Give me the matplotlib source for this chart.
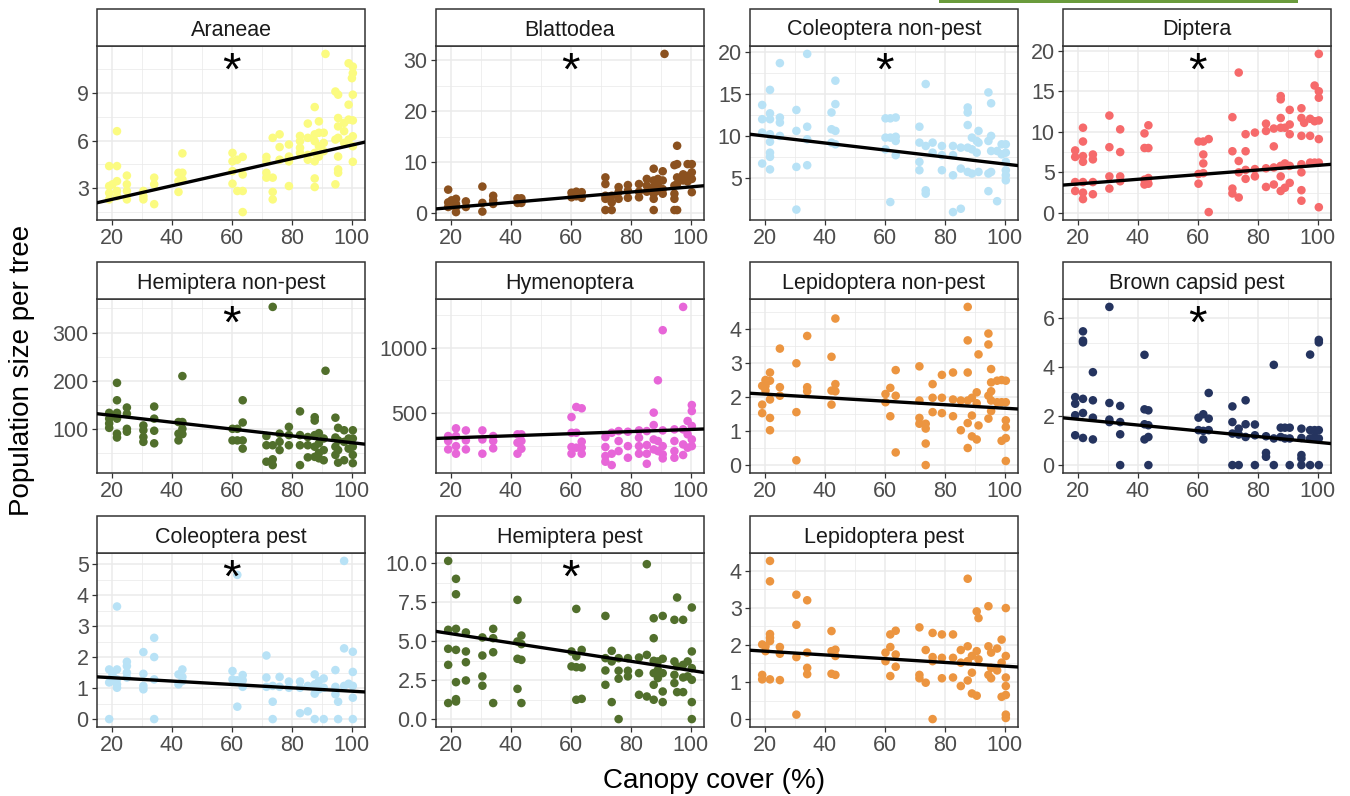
import matplotlib
matplotlib.use("Agg")
import matplotlib.pyplot as plt
from matplotlib.patches import Rectangle
import matplotlib.transforms as mtransforms
import numpy as np

plt.rcParams['font.family'] = ['Liberation Sans', 'DejaVu Sans']

# ---------------- data (canopy cover %, population size per tree) ----------------
araneae = [(19.1, [4.4, 3.14, 2.7, 2.3]), (20.2, [3.25]), (21.7, [4.4, 6.6, 3.45, 2.83, 2.5]),
           (25.0, [3.8, 3.25, 2.83, 2.3]), (30.5, [2.83, 2.3, 2.5]), (34.1, [3.67, 3.25, 2.0]),
           (42.2, [3.98, 3.45, 2.77]), (43.5, [5.2, 3.98, 3.56]), (60.2, [5.23, 4.7, 4.08, 3.29]),
           (61.8, [4.8, 2.83]), (63.6, [4.98, 3.87, 2.83, 1.5]), (71.5, [4.98, 4.7, 3.98, 3.67]),
           (73.6, [6.18, 3.67, 2.77, 2.3]), (75.9, [6.4, 5.6, 4.8]), (79.0, [5.76, 5.0, 4.7, 3.14]),
           (82.7, [6.3, 5.97, 5.55, 5.23]), (85.3, [7.08, 6.18, 4.8, 5.1]),
           (87.6, [8.12, 6.4, 5.97, 5.23, 4.7, 3.62, 3.08]), (89.0, [7.22, 6.5, 5.65, 5.0]),
           (90.6, [6.5, 5.86, 5.34]), (91.2, [11.47]), (94.5, [9.1, 6.07, 3.25]),
           (95.4, [8.9, 7.43, 6.9, 6.18, 5.0, 4.19, 3.98]), (97.4, [7.12, 6.6, 5.86]),
           (98.9, [10.88, 8.27, 7.33, 6.07]), (100.0, [9.94]),
           (100.3, [10.67, 10.26, 8.9, 7.28, 6.28, 5.65, 4.67])]

blattodea = [(19.1, [4.6, 2.1, 1.2]), (20.2, [2.5, 1.5]), (21.7, [2.8, 1.8, 0.2, 1.2]), (25.0, [2.3, 1.2]),
             (30.5, [5.2, 2.0, 0.3]), (34.1, [3.4, 2.5, 1.8]), (42.2, [2.9, 2.0]), (43.5, [2.9, 2.0]),
             (60.2, [4.0, 3.1]), (61.8, [4.2, 3.3]), (63.6, [4.1, 3.0]), (71.5, [7.0, 5.7, 3.4, 2.8, 0.6]),
             (73.6, [3.4, 2.1, 0.6]), (75.9, [5.1, 4.1, 2.8]), (79.0, [5.5, 4.4, 3.0]), (82.7, [5.7, 4.2, 3.1]),
             (85.3, [6.7, 5.4, 4.2]), (87.6, [8.7, 6.4, 5.1, 3.8, 2.8, 0.6]), (89.0, [6.7, 5.4, 4.4]),
             (90.6, [6.4, 4.7, 3.8, 8.2]), (91.2, [31.2]), (94.5, [9.4, 5.4, 3.8, 2.8, 0.6]),
             (95.4, [13.2, 9.6, 7.0, 5.7, 0.6]), (97.4, [7.6, 6.4]), (98.9, [9.6, 7.3, 6.2]),
             (100.3, [9.6, 8.0, 6.7, 4.1])]

coleoptera_nonpest = [(19.1, [13.7, 12.0, 10.4, 6.7]), (21.7, [15.5, 12.7, 12.0, 10.2, 9.3, 8.0, 7.5, 6.0]),
                      (25.0, [18.7, 12.2, 11.6, 10.0]), (30.5, [13.1, 10.6, 6.3, 1.2]),
                      (34.1, [19.8, 11.1, 9.6, 6.5]), (42.2, [12.8, 10.8, 9.2]), (43.5, [16.6, 13.8, 10.6, 9.0]),
                      (60.2, [12.1, 9.8, 8.4]), (61.8, [12.1, 9.8, 2.1]), (63.6, [12.2, 9.9, 9.4, 7.7]),
                      (71.5, [11.1, 9.2, 6.9, 5.9]), (73.6, [16.2, 8.8, 3.5, 3.1]), (75.9, [9.2, 8.0]),
                      (79.0, [8.8, 7.7, 5.9]), (82.7, [8.8, 7.7, 5.3, 0.9]), (85.3, [8.6, 6.1, 1.3]),
                      (87.6, [13.4, 12.8, 11.3, 8.6, 5.7]), (89.0, [9.8, 8.4, 5.5]), (90.6, [9.4, 8.0]),
                      (91.2, [10.6, 9.2, 5.7]), (94.5, [15.2, 9.4, 5.5, 3.4]), (95.4, [13.9, 10.0, 8.2, 5.7]),
                      (97.4, [8.2, 2.2]), (98.9, [9.0, 7.8]), (100.3, [9.0, 8.0, 6.9, 5.9, 5.3, 4.7])]

diptera = [(19.1, [7.7, 6.9, 3.8, 2.7]), (21.7, [10.5, 8.8, 7.0, 6.3, 3.8, 2.5, 1.7]), (25.0, [7.2, 6.6, 3.8, 2.3]),
           (30.5, [12.0, 8.1, 4.5, 3.0]), (34.1, [10.3, 7.5, 4.5, 3.9]), (42.2, [9.8, 8.0, 4.1, 3.5]),
           (43.5, [10.8, 8.0, 4.3, 3.6]), (60.2, [8.8, 4.8, 3.6]), (61.8, [8.8, 7.2, 6.1, 4.9]), (63.6, [9.1, 0.1]),
           (71.5, [11.8, 7.6, 3.0, 2.4]), (73.6, [17.3, 6.4, 5.0, 1.9]), (75.9, [9.7, 7.6, 5.3, 4.2]),
           (79.0, [9.9, 5.4, 4.5]), (82.7, [11.0, 10.1, 5.5, 3.2]), (85.3, [10.4, 8.2, 5.6, 3.5]),
           (87.6, [14.4, 14.0, 11.7, 10.5, 5.8, 4.5, 2.7]), (89.0, [10.5, 6.1, 3.1]),
           (90.6, [10.9, 9.7, 5.8, 12.7, 3.7]), (94.5, [12.9, 11.7, 9.5, 6.0, 5.0, 2.8, 1.5]), (95.4, [11.1]),
           (97.4, [11.6, 9.5, 6.2]), (98.9, [15.7, 11.3, 6.2]), (100.3, [19.6, 15.0, 14.2, 11.4, 9.1, 6.2, 0.7])]

hemiptera_nonpest = [(19.1, [134, 122, 112, 103]), (21.7, [196, 160, 134, 122, 91, 83]), (25.0, [145, 132, 101, 95]),
                     (30.5, [108, 98, 84, 74]), (34.1, [147, 122, 97, 71]), (42.2, [115, 91, 77]),
                     (43.5, [210, 115, 101, 90]), (60.2, [101, 77]), (61.8, [101, 77]), (63.6, [160, 114, 77, 60]),
                     (71.5, [86, 67, 33]), (73.6, [353, 67, 38, 26]), (75.9, [91, 74, 57]), (79.0, [105, 88, 67]),
                     (82.7, [137, 88, 67, 26]), (85.3, [84, 67, 42]), (87.6, [125, 118, 88, 64, 43]),
                     (89.0, [92, 71, 51, 40]), (90.6, [81, 57, 36]), (91.2, [221]), (94.5, [124, 83, 64, 47]),
                     (95.4, [103, 77, 57, 31]), (97.4, [98, 74, 36]), (98.9, [81, 60]), (100.3, [98, 81, 64, 47, 30])]

hymenoptera = [(19.1, [324, 286, 222]), (21.7, [383, 324, 247, 189]), (25.0, [367, 291, 222]),
               (30.5, [367, 298, 189]), (34.1, [324, 286, 230]), (42.2, [337, 273, 189]), (43.5, [337, 286, 227]),
               (60.2, [469, 349, 240, 189]), (61.8, [546, 349, 235]), (63.6, [536, 281, 235, 189]),
               (71.5, [316, 240, 171, 128]), (73.6, [349, 189, 102]), (75.9, [362, 286, 209]),
               (79.0, [357, 247, 158]), (82.7, [367, 311, 247, 189]), (85.3, [362, 255, 189, 112]),
               (87.6, [503, 408, 298, 222]), (89.0, [750, 286, 209]), (90.6, [1133, 367, 247, 184, 153]),
               (94.5, [375, 286, 209, 158]), (97.4, [1311, 375, 260, 179]), (98.9, [439, 337, 235]),
               (100.3, [561, 515, 401, 298, 247])]

lepidoptera_nonpest = [(19.1, [2.33, 1.78, 1.53]), (20.2, [2.5, 2.33, 2.19]), (21.7, [2.72, 2.48, 1.93, 1.39, 1.03]),
                       (25.0, [3.42, 2.29, 2.04]), (30.5, [2.99, 1.56, 0.15]), (34.1, [3.79, 2.29, 2.17]),
                       (42.2, [3.18, 2.19, 1.78]), (43.5, [4.30, 2.38, 2.17]), (60.2, [2.09, 1.85]),
                       (61.8, [2.27, 1.44]), (63.6, [2.79, 2.04, 0.38]), (71.5, [2.90, 1.90, 1.39, 1.22]),
                       (73.6, [1.22, 1.08, 0.64, 0.01]), (75.9, [2.38, 1.98, 1.56]), (79.0, [2.65, 1.98, 1.53]),
                       (82.7, [2.72, 1.93, 1.44]), (85.3, [1.90, 1.03]), (87.6, [4.64, 3.66, 2.72, 1.90, 1.24, 0.51]),
                       (89.0, [1.98, 1.46, 0.85]), (90.6, [2.14, 1.82, 0.76]), (91.2, [3.25, 1.17]),
                       (94.5, [3.86, 3.54, 2.04, 1.37]), (95.4, [2.82, 2.43, 2.17, 1.90, 1.59]), (97.4, [2.48, 1.85]),
                       (98.9, [2.50, 1.85, 0.72]), (100.3, [2.48, 1.85, 1.32, 1.12, 0.80, 0.13])]

brown_capsid = [(19.1, [2.78, 2.51, 2.04, 1.22]), (21.7, [5.47, 5.09, 5.02, 2.71, 2.13, 1.11]),
                (25.0, [3.80, 2.65, 1.94, 1.05]), (30.5, [6.47, 2.54, 1.86, 1.76]), (34.1, [2.42, 1.76, 1.26, 0.0]),
                (42.2, [4.51, 2.28, 1.67, 1.05]), (43.5, [2.24, 1.63, 1.15, 0.0]), (60.2, [1.94, 1.43]),
                (61.8, [2.08, 1.40, 1.05]), (63.6, [2.95, 1.90, 1.43]), (71.5, [2.40, 1.76, 1.29, 0.0]),
                (73.6, [1.49, 1.25, 0.0]), (75.9, [2.65, 1.67, 1.15]), (79.0, [1.66, 1.22, 0.0]),
                (82.7, [1.18, 0.50, 0.34]), (85.3, [4.10, 1.09, 0.0]), (87.6, [1.53, 1.15]), (89.0, [1.53, 1.09]),
                (90.6, [1.53, 1.09, 0.0]), (94.5, [1.49, 1.11, 0.41, 0.27, 0.0]), (97.4, [4.52, 1.43, 1.09, 0.0]),
                (98.9, [1.43, 1.15]), (100.3, [5.12, 5.02, 1.43, 1.09, 0.0])]

coleoptera_pest = [(19.1, [1.60, 1.18, 0.0]), (20.2, [1.44, 1.25]), (21.7, [3.63, 1.60, 1.28, 1.12, 1.01]),
                   (25.0, [1.85, 1.71, 1.50, 1.34]), (30.5, [2.16, 1.46, 1.07, 0.96]), (34.1, [2.62, 2.00, 1.28, 0.0]),
                   (42.2, [1.44, 1.12]), (43.5, [1.60, 1.36, 1.23]), (60.2, [1.55, 1.28]), (61.8, [4.65, 1.25, 0.40]),
                   (63.6, [1.42, 1.25, 1.04]), (71.5, [2.05, 1.34, 1.04]), (73.6, [1.07, 0.56, 0.0]),
                   (75.9, [1.36, 1.04]), (79.0, [1.21, 1.01]), (82.7, [1.21, 1.01, 0.19]), (85.3, [1.07, 0.25]),
                   (87.6, [1.44, 1.12, 0.82, 0.0]), (89.0, [1.23, 0.96]), (90.6, [1.31, 1.01, 0.0]),
                   (94.5, [1.58, 1.04, 0.80]), (95.4, [0.56, 0.0]), (97.4, [5.10, 2.28, 1.07]), (98.9, [1.14]),
                   (100.3, [2.17, 1.52, 1.07, 0.69, 0.0])]

hemiptera_pest = [(19.1, [10.15, 5.73, 4.51, 3.48, 1.03]), (21.7, [9.0, 8.01, 5.79, 4.44, 2.37, 1.28, 1.13]),
                  (25.0, [5.56, 4.34, 3.65, 2.48]), (30.5, [5.24, 4.08, 2.74, 2.14]), (34.1, [5.79, 5.19, 4.29, 1.03]),
                  (42.2, [7.65, 4.98, 3.87, 1.94]), (43.5, [5.36, 4.81, 3.80, 1.03]), (60.2, [4.34, 3.38]),
                  (61.8, [7.07, 4.02, 3.33, 1.24]), (63.6, [4.44, 3.31, 1.30]), (71.5, [6.62, 3.91, 3.12, 2.20]),
                  (73.6, [4.38, 3.70, 1.09]), (75.9, [3.91, 3.10, 2.59, 0.0]), (79.0, [3.91, 3.10, 2.74]),
                  (82.7, [3.95, 2.95, 1.56]), (85.3, [9.94, 4.12, 1.45]), (87.6, [6.47, 5.19, 3.74, 2.95, 2.20, 1.24]),
                  (89.0, [3.70, 3.16, 2.63]), (90.6, [6.62, 3.87, 2.95, 1.77, 1.09]), (94.5, [6.37, 3.70, 2.84, 2.31]),
                  (95.4, [7.80, 3.38, 1.73]), (97.4, [6.37, 3.48, 2.67, 1.73]), (98.9, [3.70, 2.74]),
                  (100.3, [7.16, 4.34, 3.27, 2.52, 1.09, 0.0])]

lepidoptera_pest = [(19.1, [2.01, 1.19, 1.07]), (20.2, [1.96, 1.83]), (21.7, [4.26, 3.71, 2.29, 2.19, 2.10, 1.07]),
                    (25.0, [1.94, 1.76, 1.05]), (30.5, [3.35, 2.54, 1.67, 0.12]), (34.1, [3.20, 1.79, 1.38, 1.21]),
                    (42.2, [2.37, 1.83, 1.22]), (43.5, [1.87, 1.70, 1.19]), (60.2, [1.79, 1.56]),
                    (61.8, [2.28, 1.94, 1.16]), (63.6, [2.38, 1.74, 1.41]), (71.5, [2.47, 1.19, 1.10]),
                    (73.6, [1.86, 0.98]), (75.9, [2.32, 1.67, 1.56, 0.0]), (79.0, [2.28, 1.65, 1.10]),
                    (82.7, [2.28, 1.65, 1.12]), (85.3, [1.86, 1.52, 0.89]), (87.6, [3.78, 1.96, 1.56, 1.04]),
                    (89.0, [1.70, 1.25, 0.69]), (90.6, [2.90, 1.83, 0.63]), (91.2, [2.72, 1.61]),
                    (94.5, [3.04, 1.96, 1.19]), (95.4, [1.79, 1.38, 1.10]), (97.4, [1.90, 1.31]),
                    (98.9, [2.14, 1.52, 0.60]), (100.3, [2.99, 1.70, 1.12, 0.89, 0.65, 0.12, 0.03])]

panel_titles = ["Araneae", "Blattodea", "Coleoptera non-pest", "Diptera",
                "Hemiptera non-pest", "Hymenoptera", "Lepidoptera non-pest", "Brown capsid pest",
                "Coleoptera pest", "Hemiptera pest", "Lepidoptera pest"]
panel_data = [araneae, blattodea, coleoptera_nonpest, diptera,
              hemiptera_nonpest, hymenoptera, lepidoptera_nonpest, brown_capsid,
              coleoptera_pest, hemiptera_pest, lepidoptera_pest]
panel_colors = ["#FBFB80", "#8B511F", "#B8E2F6", "#F66A6B",
                "#516F2C", "#E766D8", "#EC9540", "#25345F",
                "#B8E2F6", "#516F2C", "#EC9540"]
# fitted trend: intercept and slope
fit_intercept = [1.445, 0.063, 10.83, 3.00, 142.8, 293.6, 2.19, 2.11, 1.443, 6.07, 1.93]
fit_slope = [0.0428, 0.0508, -0.0419, 0.0286, -0.705, 0.808, -0.00516, -0.01178, -0.00544, -0.0295, -0.00505]
significant = [True, True, True, True, True, False, False, True, True, True, False]
y_breaks = [[3, 6, 9], [0, 10, 20, 30], [5, 10, 15, 20], [0, 5, 10, 15, 20],
            [100, 200, 300], [500, 1000], [0, 1, 2, 3, 4], [0, 2, 4, 6],
            [0, 1, 2, 3, 4, 5], [0, 2.5, 5.0, 7.5, 10.0], [0, 1, 2, 3, 4]]
x_breaks = [20, 40, 60, 80, 100]

# ---------------- layout ----------------
W, H = 1350, 796
fig = plt.figure(figsize=(W / 100, H / 100), dpi=100)
col_left = [97, 436, 750, 1063]
row_bottom = [220, 473, 727]
pw, ph = 268, 174
strip_h = 37

grid_col = "#EBEBEB"
dark = "#333333"

for i, (title, data) in enumerate(zip(panel_titles, panel_data)):
    r, c = divmod(i, 4)
    ax = fig.add_axes([col_left[c] / W, 1 - row_bottom[r] / H, pw / W, ph / H])
    xs = np.concatenate([[x] * len(ys) for x, ys in data])
    ys = np.concatenate([ys for x, ys in data])
    ax.scatter(xs, ys, s=38, color=panel_colors[i], edgecolors='none', zorder=3)
    ax.margins(x=0.05, y=0.05)
    ax.autoscale_view()
    xlo, xhi = ax.get_xlim()
    ylo, yhi = ax.get_ylim()
    ax.set_xlim(xlo, xhi)
    ax.set_ylim(ylo, yhi)
    ax.set_autoscale_on(False)
    ax.axline((0, fit_intercept[i]), slope=fit_slope[i], color='black', lw=2.4, zorder=4)

    yb = y_breaks[i]
    ax.set_xticks(x_breaks)
    ax.set_yticks(yb)
    if i == 9:
        ax.set_yticklabels([f"{v:.1f}" for v in yb])
    else:
        ax.set_yticklabels([f"{v:g}" for v in yb])
    step = yb[1] - yb[0]
    yminor = [yb[0] - step / 2] + [v + step / 2 for v in yb]
    ax.set_yticks(yminor, minor=True)
    ax.set_xticks([10, 30, 50, 70, 90, 110], minor=True)
    ax.set_xlim(xlo, xhi)
    ax.set_ylim(ylo, yhi)
    ax.grid(True, which='major', color=grid_col, lw=1.1, zorder=0)
    ax.grid(True, which='minor', color=grid_col, lw=0.55, zorder=0)
    ax.set_axisbelow(True)
    ax.tick_params(which='minor', length=0)
    ax.tick_params(which='major', length=3.5, width=0.9, color=dark, labelcolor="#4D4D4D",
                   labelsize=15.5, pad=2.5)
    for sp in ax.spines.values():
        sp.set_color(dark)
        sp.set_linewidth(1.1)

    # strip
    sh = strip_h / ph
    ax.add_patch(Rectangle((0, 1), 1, sh, transform=ax.transAxes, facecolor='white',
                           edgecolor=dark, lw=1.1, clip_on=False, zorder=5))
    ax.text(0.5, 1 + sh / 2, title, transform=ax.transAxes, ha='center', va='center_baseline',
            fontsize=15.5, color='#1A1A1A', zorder=6)

    if significant[i]:
        trans = mtransforms.blended_transform_factory(ax.transData, ax.transAxes)
        ax.text(60, 0.775, "*", transform=trans, ha='center', va='baseline',
                fontsize=34, color='black', zorder=6)

fig.text(714 / W, 1 - 781 / H, "Canopy cover (%)", ha='center', va='center', fontsize=20)
fig.text(22 / W, 1 - 370 / H, "Population size per tree", ha='center', va='center',
         rotation=90, fontsize=20)

# green bar at the top edge
fig.patches.append(Rectangle((939 / W, 1 - 3 / H), 359 / W, 3 / H, transform=fig.transFigure,
                             facecolor="#6A9B3C", edgecolor='none'))

fig.savefig("out.png", dpi=100)
